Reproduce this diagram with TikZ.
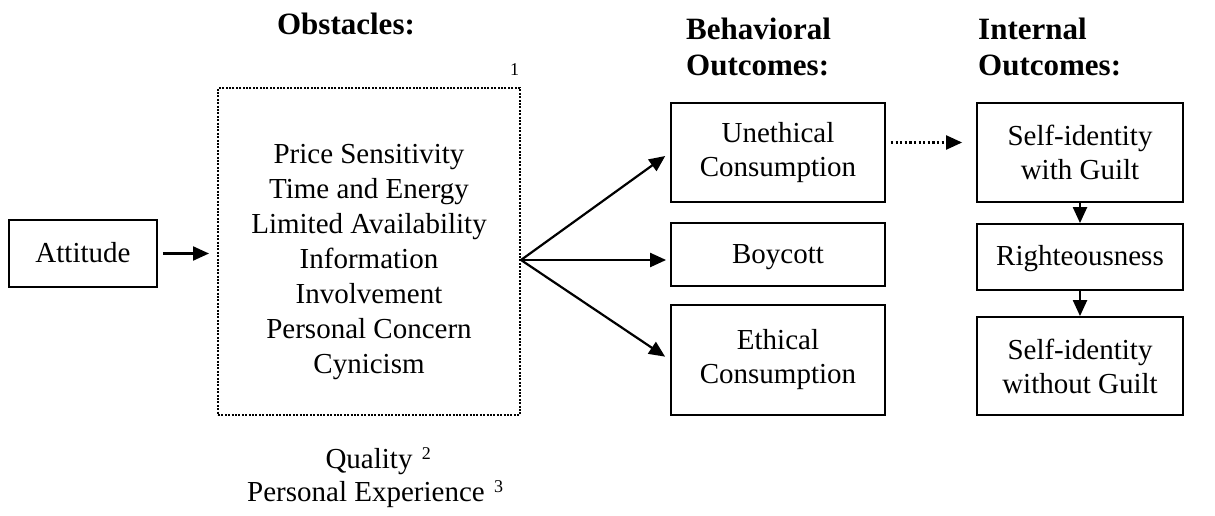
\documentclass[tikz,border=0pt]{standalone}
\usepackage{fontspec}
\setmainfont{Liberation Serif}
\usetikzlibrary{arrows.meta}
\begin{document}
\begin{tikzpicture}[x=1pt,y=-1pt,
  txt/.style={font=\fontsize{29}{34}\selectfont, align=center, inner sep=0pt},
  ttl/.style={font=\fontsize{31}{36}\selectfont\bfseries, inner sep=0pt, anchor=base west},
  sup/.style={font=\fontsize{18}{20}\selectfont, inner sep=0pt, anchor=base west},
  box/.style={draw, line width=1.8pt, txt},
  onebox/.style={box, text height=17pt, text depth=0pt},
  dotbox/.style={draw, line width=2pt, dash pattern=on 2pt off 1.4pt, txt},
  arr/.style={line width=2.2pt, -{Triangle[length=16pt,width=14pt]}},
  dotarr/.style={line width=2.2pt, dash pattern=on 2.2pt off 2.4pt, -{Triangle[length=16pt,width=14pt]}}
]
\useasboundingbox (0,0) rectangle (1215,516);
% titles
\node[ttl, anchor=base] (tobs) at (346,35) {Obstacles:};
\node[ttl] (tbeh1) at (686,40) {Behavioral};
\node[ttl] (tbeh2) at (686,76) {Outcomes:};
\node[ttl] (tint1) at (978,40) {Internal};
\node[ttl] (tint2) at (978,76) {Outcomes:};
% boxes
\node[onebox, minimum width=148pt, minimum height=67pt] (att) at (83,253.5) {Attitude};
\node[dotbox, minimum width=302pt, minimum height=327pt] (obs) at (369,251.5) {};
\node[txt, font=\fontsize{29}{35}\selectfont] (obstxt) at (369,262) {Price Sensitivity\\Time and Energy\\Limited Availability\\Information\\Involvement\\Personal Concern\\Cynicism};
\node[sup] (n1) at (510,76) {1};
\node[box, minimum width=214pt, minimum height=99pt] (une) at (778,152.5) {Unethical\\Consumption};
\node[onebox, minimum width=214pt, minimum height=63pt] (boy) at (778,254.5) {Boycott};
\node[box, minimum width=214pt, minimum height=110pt] (eth) at (778,360) {Ethical\\Consumption};
\node[box, minimum width=206pt, minimum height=99pt] (sg) at (1080,152.5) {Self-identity\\with Guilt};
\node[onebox, minimum width=206pt, minimum height=66pt] (rig) at (1080,257) {Righteousness};
\node[box, minimum width=206pt, minimum height=98pt] (sng) at (1080,366) {Self-identity\\without Guilt};
% below
\node[txt, anchor=base] (qual) at (369,468) {Quality};
\node[sup] (n2) at ([xshift=9pt,yshift=9pt]qual.base east) {2};
\node[txt, anchor=base] (pexp) at (366,501) {Personal Experience};
\node[sup] (n3) at ([xshift=9pt,yshift=9pt]pexp.base east) {3};
% connectors
\draw[arr, shorten <=5pt, shorten >=8pt] (att.east) -- (att.east -| obs.west);
\coordinate (fan) at (521,260);
\draw[arr, shorten >=6pt] (fan) -- (une.west);
\draw[arr, shorten >=4pt] (fan) -- (fan -| boy.west);
\draw[arr, shorten >=6pt] (fan) -- (eth.west);
\coordinate (ds) at ([yshift=10pt]une.east);
\draw[dotarr, shorten <=5pt, shorten >=14pt] (ds) -- (ds -| sg.west);
\draw[arr] (sg.south) -- (rig.north);
\draw[arr] (rig.south) -- (sng.north);
\end{tikzpicture}
\end{document}
